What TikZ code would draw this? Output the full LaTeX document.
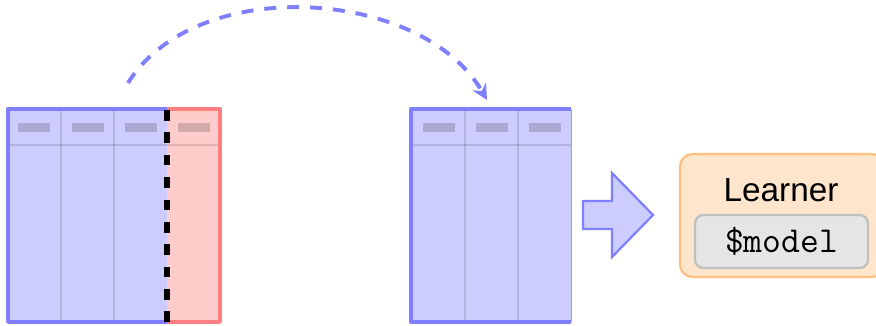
\documentclass[tikz,border=0pt]{standalone}
\usepackage{fontspec}
\setsansfont{Liberation Sans}
\usetikzlibrary{arrows.meta}

\tikzstyle{frame} = [line width=2.4pt, line join=round]
\tikzstyle{colline} = [line width=0.8pt, draw=black, draw opacity=0.12]
\tikzstyle{headbar} = [fill=black, fill opacity=0.17]
\tikzstyle{cut} = [line width=4.3pt, dash pattern=on 7.6pt off 8.3pt]
\tikzstyle{jump} = [
    line width=2.8pt,
    draw=blue!50,
    dash pattern=on 8.5pt off 7.8pt,
    -{Stealth[length=11pt,width=11pt]}
]
\tikzstyle{bigarrow} = [line width=1.6pt, draw=blue!50, fill=blue!20, line join=miter]
\tikzstyle{learnerbox} = [
    rectangle,
    rounded corners=9pt,
    line width=1.6pt,
    draw=orange!50,
    fill=orange!20,
    minimum width=5.1cm,
    minimum height=3.075cm
]
\tikzstyle{modelbox} = [
    rectangle,
    rounded corners=6pt,
    line width=1.6pt,
    draw=gray!50,
    fill=gray!20,
    minimum width=4.325cm,
    minimum height=1.325cm
]

\begin{document}
\begin{tikzpicture}[x=0.025cm, y=0.025cm]

\clip (0,0) rectangle (876,325);
\fill [white] (0,0) rectangle (876,325);

% full task: three kept columns and the dropped one
\fill [blue!20] (8,3) rectangle (167,216);
\fill [red!20] (167,3) rectangle (220,216);
\foreach \x in {61,114}
    \draw [colline] (\x,3) -- (\x,216);
\draw [colline] (8,180) -- (220,180);
\foreach \x in {18,72,125,178}
    \fill [headbar] (\x,193) rectangle ++(32,9);
\draw [frame, blue!50] (167,216) -- (8,216) -- (8,3) -- (167,3);
\draw [frame, red!50] (167,216) -- (220,216) -- (220,3) -- (167,3);
\draw [cut] (167,3) -- (167,216);

% reduced task
\fill [blue!20] (411,3) rectangle (571,216);
\foreach \x in {465,518}
    \draw [colline] (\x,3) -- (\x,216);
\draw [colline] (411,180) -- (571,180);
\foreach \x in {423,476,529}
    \fill [headbar] (\x,193) rectangle ++(32,9);
\draw [frame, blue!50] (571,216) -- (411,216) -- (411,3) -- (571,3);
\draw [red!50, line width=0.4pt] (571,3) -- (571,216);

% hand the selection over
\coordinate (from) at (128,242);
\coordinate (to) at (487,225);
\draw [jump] (from) to[out=58, in=120, looseness=0.92] (to);

% into the learner
\draw [bigarrow] (583,96) -- (612,96) -- (612,68) -- (653,110)
    -- (612,152) -- (612,124) -- (583,124) -- cycle;

\node (learner) [learnerbox] at (782,109.5) {};
\node (title) at (781,135)
{\sffamily\fontsize{23.7}{28}\selectfont Learner};
\node (model) [modelbox] at (781.5,83.5)
{\ttfamily\fontsize{26}{30}\selectfont \$model};

\end{tikzpicture}
\end{document}
